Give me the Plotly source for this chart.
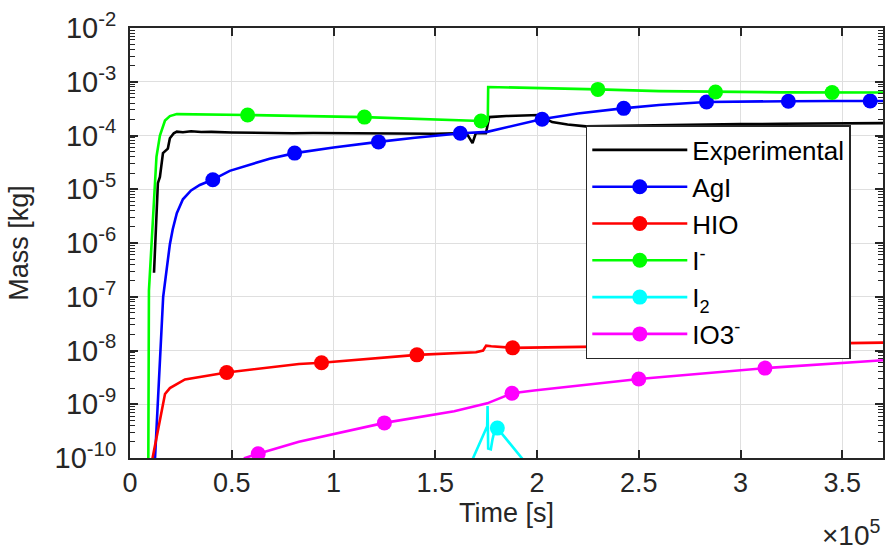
import plotly.graph_objects as go

# ---- axis ticks ----
time_ticks = [0, 50000, 100000, 150000, 200000, 250000, 300000, 350000]
time_tick_labels = ["0", "0.5", "1", "1.5", "2", "2.5", "3", "3.5"]
mass_ticks = [1e-10, 1e-9, 1e-8, 1e-7, 1e-6, 1e-5, 1e-4, 1e-3, 1e-2]
mass_tick_labels = ["10<sup>-10</sup>", "10<sup>-9</sup>", "10<sup>-8</sup>", "10<sup>-7</sup>",
                    "10<sup>-6</sup>", "10<sup>-5</sup>", "10<sup>-4</sup>", "10<sup>-3</sup>",
                    "10<sup>-2</sup>"]
mass_minor_ticks = [k * d for d in mass_ticks[:-1] for k in range(2, 10)]

# ---- Experimental (measured) ----
exp_t = [11800, 13700, 14700, 16200, 18600, 19600, 21500, 23000, 26000, 30000, 35000,
         40000, 50000, 60000, 70000, 80000, 90000, 100000, 110000, 120000, 130000,
         140000, 150000, 160000, 165500, 168300, 169900, 174900, 176500, 185000,
         195000, 201000, 207400, 215000, 224000, 240000, 260000, 280000, 300000,
         320000, 340000, 355000, 370000]
exp_m = [2.8e-7, 1.3e-5, 1.7e-5, 4.7e-5, 5.7e-5, 8.9e-5, 1.1e-4, 1.18e-4, 1.15e-4, 1.2e-4, 1.16e-4,
         1.17e-4, 1.14e-4, 1.12e-4, 1.13e-4, 1.1e-4, 1.11e-4, 1.1e-4, 1.09e-4, 1.1e-4, 1.08e-4,
         1.09e-4, 1.08e-4, 1.1e-4, 1.08e-4, 7.2e-5, 1.1e-4, 1.1e-4, 2.2e-4, 2.3e-4,
         2.35e-4, 2.4e-4, 1.78e-4, 1.6e-4, 1.48e-4, 1.52e-4, 1.57e-4, 1.6e-4, 1.63e-4,
         1.65e-4, 1.67e-4, 1.69e-4, 1.7e-4]

# ---- AgI ----
agi_t = [11900, 12300, 14500, 16300, 18000, 19600, 21000, 23000, 26000, 30000, 34300, 40500,
         49000, 68600, 81000, 100000, 122000, 140000, 163000, 175500, 202000, 220000, 242000,
         260000, 283000, 300000, 323000, 345000, 363000, 370000]
agi_m = [5e-11, 1e-10, 3.2e-9, 1e-7, 3.2e-7, 9.5e-7, 1.8e-6, 3.6e-6, 6.5e-6, 9.5e-6, 1.2e-5, 1.5e-5,
         2.2e-5, 3.7e-5, 4.7e-5, 6.0e-5, 7.6e-5, 9.1e-5, 1.1e-4, 1.17e-4, 2.0e-4, 2.57e-4, 3.2e-4,
         3.7e-4, 4.2e-4, 4.3e-4, 4.35e-4, 4.37e-4, 4.37e-4, 4.37e-4]
agi_mark_t = [40700, 80900, 122100, 162300, 202500, 242600, 283300, 323500, 363700]
agi_mark_m = [1.5e-5, 4.7e-5, 7.6e-5, 1.1e-4, 2.0e-4, 3.2e-4, 4.2e-4, 4.35e-4, 4.37e-4]

# ---- HIO ----
hio_t = [10800, 11100, 17200, 19600, 27000, 47500, 83000, 94100, 141000, 170000, 173500,
         175000, 177500, 188000, 230000, 300000, 370000]
hio_m = [5e-11, 1e-10, 1.55e-9, 2.0e-9, 2.9e-9, 3.9e-9, 5.6e-9, 5.9e-9, 8.3e-9, 9.3e-9, 1.0e-8,
         1.23e-8, 1.2e-8, 1.12e-8, 1.18e-8, 1.3e-8, 1.4e-8]
hio_mark_t = [47500, 94100, 141000, 188000, 235000, 282000, 329000]
hio_mark_m = [3.9e-9, 5.9e-9, 8.3e-9, 1.12e-8, 1.2e-8, 1.28e-8, 1.35e-8]

# ---- I- ----
iodide_t = [8500, 9000, 9300, 10600, 11800, 13000, 14700, 17200, 19600, 23000, 57800,
            115200, 172500, 175800, 176000, 200000, 230000, 260000, 288000, 320000, 370000]
iodide_m = [3e-11, 1e-10, 1.3e-7, 1.1e-6, 9.5e-6, 4e-5, 1e-4, 1.9e-4, 2.3e-4, 2.5e-4, 2.4e-4,
            2.2e-4, 1.86e-4, 1.86e-4, 8.0e-4, 7.7e-4, 7.2e-4, 6.7e-4, 6.45e-4, 6.35e-4, 6.3e-4]
iodide_mark_t = [57800, 115200, 172500, 229900, 287700, 345000]
iodide_mark_m = [2.4e-4, 2.2e-4, 1.86e-4, 7.2e-4, 6.45e-4, 6.32e-4]

# ---- I2 ----
i2_t = [167000, 168600, 175500, 175700, 176000, 177300, 178100, 178900, 180500, 192800, 194000]
i2_m = [7.5e-11, 1e-10, 3.9e-10, 9.3e-10, 1.5e-10, 1.45e-10, 2.2e-10, 2.95e-10, 3.6e-10, 1e-10, 8.5e-11]
i2_mark_t = [180500]
i2_mark_m = [3.6e-10]

# ---- IO3- ----
io3_t = [55000, 56400, 63000, 83000, 125000, 159300, 175500, 187700, 198500, 250000, 312000, 370000]
io3_m = [8e-11, 1e-10, 1.2e-10, 2e-10, 4.5e-10, 7.4e-10, 1.04e-9, 1.6e-9, 1.8e-9, 2.95e-9, 4.7e-9, 6.6e-9]
io3_mark_t = [63000, 125000, 187700, 250000, 312000]
io3_mark_m = [1.2e-10, 4.5e-10, 1.6e-9, 2.95e-9, 4.7e-9]

series = [
    ("Experimental", "#000000", exp_t, exp_m, None, None),
    ("AgI", "#0000FF", agi_t, agi_m, agi_mark_t, agi_mark_m),
    ("HIO", "#FF0000", hio_t, hio_m, hio_mark_t, hio_mark_m),
    ("I<sup>-</sup>", "#00FF00", iodide_t, iodide_m, iodide_mark_t, iodide_mark_m),
    ("I<sub>2</sub>", "#00FFFF", i2_t, i2_m, i2_mark_t, i2_mark_m),
    ("IO3<sup>-</sup>", "#FF00FF", io3_t, io3_m, io3_mark_t, io3_mark_m),
]

LINE_W = 2.6
MARK_SIZE = 15
FONT = "Liberation Sans, Arial, sans-serif"
INK = "#262626"

fig = go.Figure()
for name, color, t, m, mt, mm in series:
    fig.add_trace(go.Scatter(x=t, y=m, mode="lines", line=dict(color=color, width=LINE_W),
                             showlegend=False, hoverinfo="skip"))
    if mt is not None:
        fig.add_trace(go.Scatter(x=mt, y=mm, mode="markers",
                                 marker=dict(color=color, size=MARK_SIZE),
                                 showlegend=False, hoverinfo="skip"))

# legend entries
for name, color, t, m, mt, mm in series:
    fig.add_trace(go.Scatter(x=[None], y=[None], name=name,
                             mode="lines" if mt is None else "lines+markers",
                             line=dict(color=color, width=LINE_W),
                             marker=dict(color=color, size=MARK_SIZE)))

axis_common = dict(
    showline=True, linecolor=INK, linewidth=2, mirror="allticks",
    ticks="inside", ticklen=8, tickwidth=1.5, tickcolor=INK,
    showgrid=True, gridcolor="#DFDFDF", gridwidth=1, zeroline=False,
)

fig.update_xaxes(
    range=[0, 370000], tickmode="array", tickvals=time_ticks, ticktext=time_tick_labels,
    tickfont=dict(family=FONT, size=27, color=INK),
    title=dict(text="Time [s]", font=dict(family=FONT, size=27, color=INK), standoff=4),
    **axis_common,
)
fig.update_yaxes(
    type="log", range=[-10, -2], tickmode="array", tickvals=mass_ticks, ticktext=mass_tick_labels,
    minor=dict(tickmode="array", tickvals=mass_minor_ticks, ticks="inside", ticklen=5,
               tickwidth=1, tickcolor=INK, showgrid=False),
    ticklabelstandoff=6,
    tickfont=dict(family=FONT, size=29, color=INK),
    title=dict(text="Mass [kg]", font=dict(family=FONT, size=27, color=INK), standoff=18),
    **axis_common,
)

fig.add_annotation(text="\u00d710<sup>5</sup>", xref="paper", yref="paper", x=1.0, y=-0.22,
                   xanchor="right", yanchor="bottom", showarrow=False,
                   font=dict(family=FONT, size=28, color=INK))

fig.update_layout(
    width=890, height=550,
    margin=dict(l=130, r=5, t=28, b=92),
    paper_bgcolor="white", plot_bgcolor="white",
    font=dict(family=FONT, size=26, color=INK),
    legend=dict(x=0.6053, y=0.7744, xanchor="left", yanchor="top",
                bgcolor="white", bordercolor=INK, borderwidth=1.5,
                font=dict(family=FONT, size=26, color="#000000"),
                itemwidth=95, tracegroupgap=0),
)

fig.write_html("out.html")
